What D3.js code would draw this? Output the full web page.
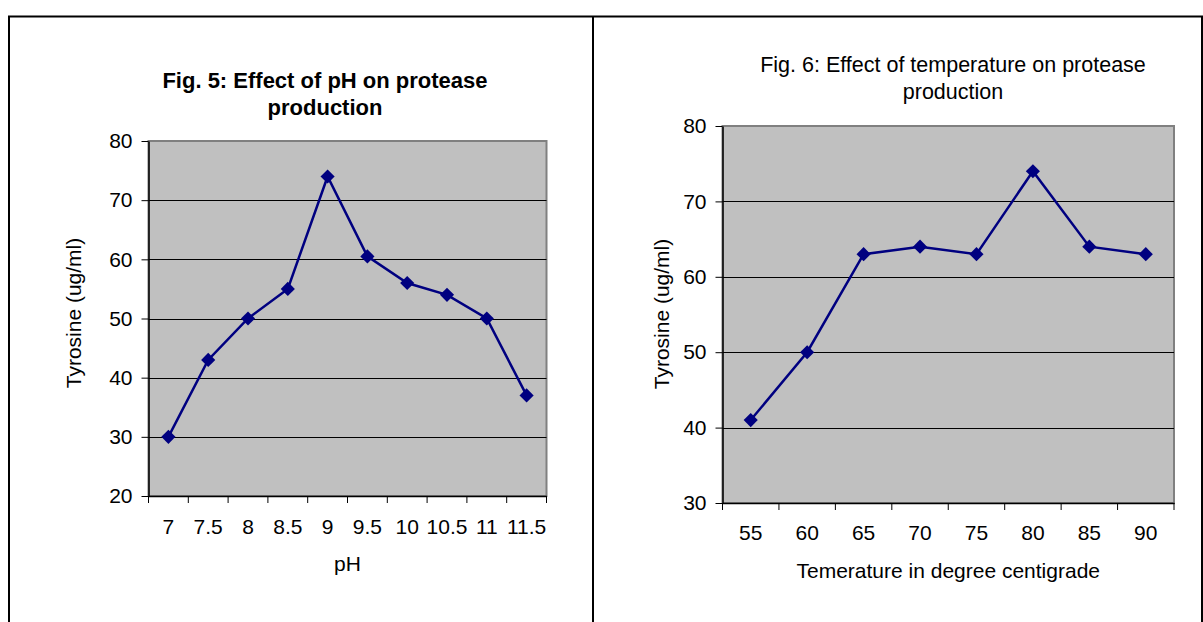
<!DOCTYPE html>
<html>
<head>
<meta charset="utf-8">
<script src="https://cdn.jsdelivr.net/npm/d3@7"></script>
<style>
  body { margin: 0; background: #fff; }
  svg { display: block; font-family: Arial, "Liberation Sans", sans-serif; }
</style>
</head>
<body>
<svg id="chart" width="1203" height="622"></svg>
<script>
"use strict";

// pH chart (Fig. 5)
var phLabels = ["7", "7.5", "8", "8.5", "9", "9.5", "10", "10.5", "11", "11.5"];
var phValues = [30, 43, 50, 55, 74, 60.5, 56, 54, 50, 37];
var phTicks = [20, 30, 40, 50, 60, 70, 80];

// temperature chart (Fig. 6)
var tempLabels = ["55", "60", "65", "70", "75", "80", "85", "90"];
var tempValues = [41, 50, 63, 64, 63, 74, 64, 63];
var tempTicks = [30, 40, 50, 60, 70, 80];

var svg = d3.select("#chart");

// table-like frame around both figures
var frame = svg.append("g").attr("stroke", "#000").attr("stroke-width", 2);
frame.append("line").attr("x1", 8).attr("x2", 1203).attr("y1", 16.5).attr("y2", 16.5);
frame.append("line").attr("x1", 9).attr("x2", 9).attr("y1", 16).attr("y2", 622);
frame.append("line").attr("x1", 593).attr("x2", 593).attr("y1", 16).attr("y2", 622);
frame.append("line").attr("x1", 1202).attr("x2", 1202).attr("y1", 16).attr("y2", 622);

/**
 * Draws one line chart with gray plot area, diamond markers.
 */
function drawChart(opt) {
  var g = svg.append("g");
  var x = d3.scaleBand().domain(opt.labels).range([opt.left, opt.right]);
  var y = d3.scaleLinear().domain([opt.ticks[0], opt.ticks[opt.ticks.length - 1]])
    .range([opt.bottom, opt.top]);

  g.append("rect")
    .attr("x", opt.left).attr("y", opt.top)
    .attr("width", opt.right - opt.left).attr("height", opt.bottom - opt.top)
    .attr("fill", "#c0c0c0").attr("stroke", "#808080").attr("stroke-width", 2);

  // gridlines
  g.selectAll(".grid")
    .data(opt.ticks.slice(1, -1))
    .enter().append("line")
    .attr("x1", opt.left).attr("x2", opt.right)
    .attr("y1", function (d) { return Math.round(y(d)) + 0.5; })
    .attr("y2", function (d) { return Math.round(y(d)) + 0.5; })
    .attr("stroke", "#000").attr("stroke-width", 1);

  var yAxis = g.append("g")
    .attr("transform", "translate(" + opt.left + ",0)")
    .call(d3.axisLeft(y).tickValues(opt.ticks).tickSize(7).tickPadding(9).tickSizeOuter(0));
  var xAxis = g.append("g")
    .attr("transform", "translate(0," + opt.bottom + ")")
    .call(d3.axisBottom(x).tickSize(0).tickPadding(opt.xPad).tickSizeOuter(0));

  // ticks between categories
  g.selectAll(".xtick")
    .data(d3.range(opt.labels.length + 1))
    .enter().append("line")
    .attr("x1", function (i) { return opt.left + i * x.step(); })
    .attr("x2", function (i) { return opt.left + i * x.step(); })
    .attr("y1", opt.bottom).attr("y2", opt.bottom + 7)
    .attr("stroke", "#000");

  [yAxis, xAxis].forEach(function (a) {
    a.selectAll("text").attr("font-size", 21).attr("fill", "#000")
      .attr("font-family", "Arial, 'Liberation Sans', sans-serif");
    a.select(".domain").attr("stroke", "#000").attr("stroke-width", 1.5);
  });

  var line = d3.line()
    .x(function (d, i) { return x(opt.labels[i]) + x.bandwidth() / 2; })
    .y(function (d) { return y(d); });

  g.append("path")
    .datum(opt.values)
    .attr("d", line)
    .attr("fill", "none")
    .attr("stroke", "#000080").attr("stroke-width", 2.5);

  g.selectAll(".pt")
    .data(opt.values)
    .enter().append("path")
    .attr("d", d3.symbol(d3.symbolSquare, 100))
    .attr("transform", function (d, i) {
      return "translate(" + (x(opt.labels[i]) + x.bandwidth() / 2) + "," + y(d) + ") rotate(45)";
    })
    .attr("fill", "#000080");

  // title
  var t = g.append("text")
    .attr("text-anchor", "middle")
    .attr("font-size", opt.titleSize)
    .attr("font-weight", opt.titleBold ? "bold" : "normal")
    .attr("fill", "#000");
  opt.title.forEach(function (s, i) {
    t.append("tspan").attr("x", opt.titleX).attr("y", opt.titleY + i * 27).text(s);
  });

  g.append("text")
    .attr("x", (opt.left + opt.right) / 2).attr("y", opt.bottom + 75)
    .attr("text-anchor", "middle").attr("font-size", 21).attr("fill", "#000")
    .text(opt.xTitle);

  g.append("text")
    .attr("transform", "translate(" + opt.yTitleX + "," + opt.yTitleY + ") rotate(-90)")
    .attr("text-anchor", "middle").attr("font-size", 21).attr("fill", "#000")
    .text(opt.yTitle);
}

drawChart({
  labels: phLabels, values: phValues, ticks: phTicks,
  left: 148.5, right: 546.5, top: 141, bottom: 496, xPad: 23,
  title: ["Fig. 5: Effect of pH on protease", "production"],
  titleX: 325, titleY: 88, titleSize: 22, titleBold: true,
  xTitle: "pH", yTitle: "Tyrosine (ug/ml)", yTitleX: 81, yTitleY: 313
});

drawChart({
  labels: tempLabels, values: tempValues, ticks: tempTicks,
  left: 722.5, right: 1174, top: 126, bottom: 503, xPad: 22,
  title: ["Fig. 6: Effect of temperature on protease", "production"],
  titleX: 953, titleY: 72, titleSize: 21.5, titleBold: false,
  xTitle: "Temerature in degree centigrade", yTitle: "Tyrosine (ug/ml)", yTitleX: 669, yTitleY: 314
});
</script>
</body>
</html>
